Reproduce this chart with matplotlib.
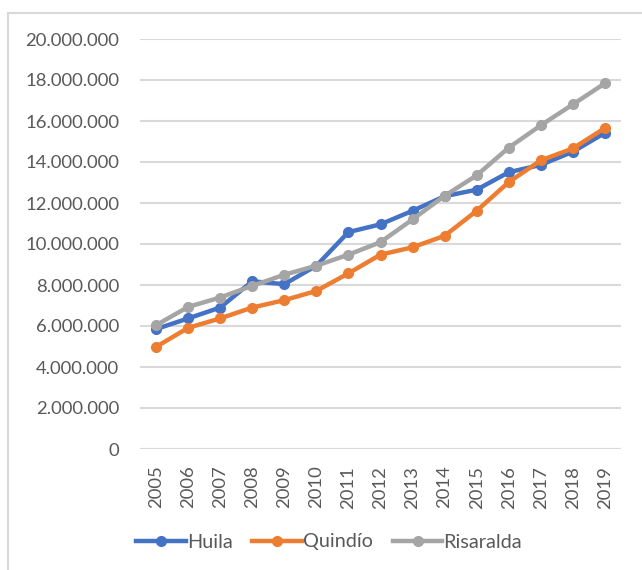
"""Line chart: Huila, Quindío, Risaralda 2005-2019."""
import matplotlib
matplotlib.use("Agg")
import matplotlib.pyplot as plt
from matplotlib.lines import Line2D
from matplotlib.ticker import FuncFormatter, MultipleLocator

years = [str(y) for y in range(2005, 2020)]
huila = [5.85, 6.37, 6.90, 8.18, 8.04, 8.94, 10.58, 10.96, 11.62, 12.33, 12.65, 13.50, 13.86, 14.50, 15.42]
quindio = [4.98, 5.91, 6.37, 6.90, 7.26, 7.71, 8.57, 9.48, 9.84, 10.40, 11.62, 13.02, 14.08, 14.66, 15.66]
risaralda = [6.04, 6.93, 7.39, 7.96, 8.50, 8.94, 9.48, 10.09, 11.20, 12.35, 13.35, 14.70, 15.79, 16.81, 17.84]
series = [("Huila", huila, "#4472C4"), ("Quindío", quindio, "#ED7D31"), ("Risaralda", risaralda, "#A5A5A5")]

TXT = "#595959"; GRID = "#d9d9d9"
plt.rcParams.update({"font.family": ["Lato", "DejaVu Sans"], "font.size": 13})

W, H = 642, 570
fig = plt.figure(figsize=(W / 100, H / 100), dpi=100)
ax = fig.add_axes([140 / W, 1 - 449 / H, (621 - 140) / W, (449 - 39) / H])

x = list(range(len(years)))
for name, vals, col in series:
    ax.plot(x, [v * 1e6 for v in vals], color=col, lw=3.2, marker="o", ms=7,
            solid_capstyle="round", label=name)

ax.set_xlim(-0.5, len(years) - 0.5)
ax.set_ylim(0, 20e6)
ax.yaxis.set_major_locator(MultipleLocator(2e6))
ax.yaxis.set_major_formatter(FuncFormatter(lambda v, _: f"{int(v):,}".replace(",", ".")))
ax.set_xticks(x)
ax.set_xticklabels(years, rotation=90)
ax.tick_params(length=0, colors=TXT, labelsize=13.3)
ax.tick_params(axis="y", pad=15)
ax.tick_params(axis="x", pad=12)
ax.grid(axis="y", color=GRID, lw=1.5)
ax.set_axisbelow(True)
for s in ax.spines.values():
    s.set_visible(False)
ax.axhline(0, color=GRID, lw=1.5, zorder=0)

# legend below the axis
handles = [Line2D([], [], color=c, lw=3.2, marker="o", ms=7) for _, _, c in series]
leg = fig.legend(handles, [n for n, _, _ in series], loc="center", bbox_to_anchor=(329 / W, 1 - 542 / H),
                 ncol=3, frameon=False, handlelength=2.5, handletextpad=0.05, columnspacing=1.0,
                 fontsize=14.3)
for t in leg.get_texts():
    t.set_color(TXT)

# chart frame
fig.add_artist(Line2D([8 / W, 1], [1 - 13 / H] * 2, color=GRID, lw=1.5))
fig.add_artist(Line2D([8 / W] * 2, [0, 1 - 13 / H], color=GRID, lw=1.5))

fig.savefig("out.png", dpi=100, facecolor="white")
